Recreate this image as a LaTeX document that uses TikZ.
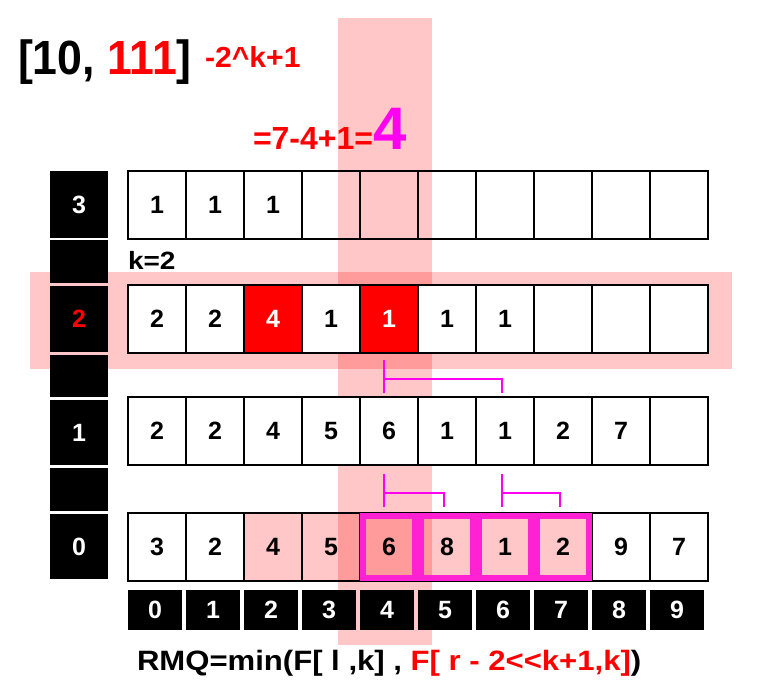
\documentclass[tikz,border=0pt]{standalone}
\usepackage{fontspec}
\setmainfont{Liberation Sans}
\usepackage{graphicx}
\definecolor{magB}{RGB}{255,34,210}
\definecolor{magL}{RGB}{255,0,240}
\tikzset{
  fs/.style={font=\fontsize{#1}{#1}\selectfont\bfseries},
  band/.style={fill=red, fill opacity=0.22},
  ocell/.style={draw=black, line width=2.8pt, minimum width=58pt, minimum height=68pt,
    inner sep=0pt, outer sep=0pt, anchor=north west, fs=25},
  wcell/.style={ocell, fill=white},
  rcell/.style={ocell, fill=red, text=white},
  pcell/.style={ocell, fill=red, fill opacity=0.22, text opacity=1},
  lblk/.style={fill=black, text=white, minimum width=58pt, inner sep=0pt, outer sep=0pt,
    anchor=north west, fs=25},
  idx/.style={fill=black, text=white, minimum width=54pt, minimum height=40pt, inner sep=0pt,
    outer sep=0pt, anchor=north west, fs=25},
  magbox/.style={draw=magB, line width=6pt},
  brk/.style={draw=magL, line width=2pt},
  lbl/.style={anchor=base west, inner sep=0pt, outer sep=0pt}
}
\begin{document}
\begin{tikzpicture}[x=1pt,y=-1pt]
\useasboundingbox (0,0) rectangle (758,684);
\fill[white] (0,0) rectangle (758,684);
% highlight bands
\fill[band] (338,18) rectangle (432,645);
\fill[band] (30,272) rectangle (732,369);
% left column
\node[lblk, minimum height=67pt] (lc3) at (50,171) {3};
\node[lblk, minimum height=43pt] (lg2) at (50,240) {};
\node[lblk, minimum height=66pt, text=red] (lc2) at (50,286) {2};
\node[lblk, minimum height=42pt] (lg1) at (50,355) {};
\node[lblk, minimum height=65pt] (lc1) at (50,400) {1};
\node[lblk, minimum height=43pt] (lg0) at (50,468) {};
\node[lblk, minimum height=65pt] (lc0) at (50,514) {0};
% row 3
\foreach \v [count=\i from 0] in {1,1,1,{},{},{},{},{},{},{}}
  \node[ocell] (r3c\i) at ({128+58*\i},171) {\v};
% row 2
\foreach \v/\s [count=\i from 0] in {2/wcell,2/wcell,4/rcell,1/wcell,1/rcell,1/wcell,1/wcell,{}/wcell,{}/wcell,{}/wcell}
  \node[\s] (r2c\i) at ({128+58*\i},285) {\v};
% row 1
\foreach \v [count=\i from 0] in {2,2,4,5,6,1,1,2,7,{}}
  \node[wcell] (r1c\i) at ({128+58*\i},397) {\v};
% row 0
\foreach \v/\s [count=\i from 0] in {3/wcell,2/wcell,4/pcell,5/pcell,6/pcell,8/pcell,1/pcell,2/pcell,9/wcell,7/wcell}
  \node[\s] (r0c\i) at ({128+58*\i},513) {\v};
\foreach \i in {4,...,7}
  \draw[magbox] ([xshift=3pt,yshift=-3pt]r0c\i.north west) rectangle ([xshift=-3pt,yshift=3pt]r0c\i.south east);
% index row
\foreach \i in {0,...,9}
  \node[idx] (ix\i) at ({128+58*\i},590) {\i};
% brackets
\coordinate (ua) at (384,360); \coordinate (ub) at (384,393);
\coordinate (uc) at (384,379); \coordinate (ud) at (502,379); \coordinate (ue) at (502,393);
\draw[brk] (ua) -- (ub);
\draw[brk] (uc) -- (ud) -- (ue);
\coordinate (la) at (384,474); \coordinate (lb) at (384,507);
\coordinate (lc) at (384,493); \coordinate (ld) at (444,493); \coordinate (le) at (444,507);
\draw[brk] (la) -- (lb);
\draw[brk] (lc) -- (ld) -- (le);
\coordinate (ma) at (502,474); \coordinate (mb) at (502,507);
\coordinate (mc) at (502,493); \coordinate (md) at (560,493); \coordinate (me) at (560,507);
\draw[brk] (ma) -- (mb);
\draw[brk] (mc) -- (md) -- (me);
% texts
\node[lbl, fs=48] (title) at (18,75) {\scalebox{0.93}[1]{[10, \textcolor{red}{111}]}};
\node[lbl, fs=29, text=red] (kexpr) at (205,68) {\scalebox{1.04}[1]{-2\textasciicircum k+1}};
\node[lbl, fs=32, text=red] (eq) at (253,150) {=7-4+1=};
\node[lbl, fs=60, text=magL] (four) at (eq.base east) {4};
\node[lbl, fs=25] (kval) at (128,270) {\scalebox{1.12}[1]{k=2}};
\node[lbl, fs=28] (rmq) at (137,670) {\scalebox{1.11}[1]{RMQ=min(F[ l ,k] , \textcolor{red}{F[ r - 2<{}<k+1,k]})}};
\end{tikzpicture}
\end{document}
